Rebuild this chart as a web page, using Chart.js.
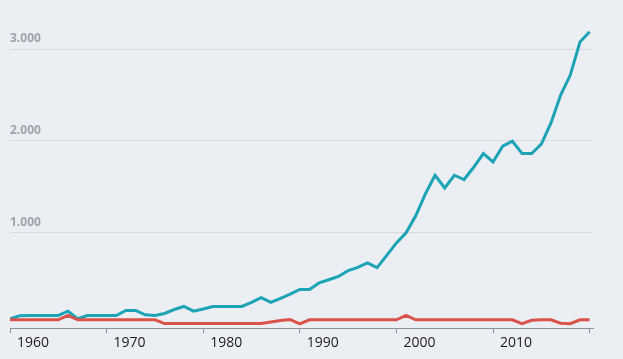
<!DOCTYPE html>
<html>
<head>
<meta charset="utf-8">
<script src="https://cdn.jsdelivr.net/npm/chart.js@4/dist/chart.umd.min.js"></script>
<style>
    html, body { margin: 0; padding: 0; background: #ebeef3; }
    #wrap { width: 623px; height: 359px; }
</style>
</head>
<body>
<div id="wrap"><canvas id="chart" width="623" height="359"></canvas></div>
<script>
// Years on the x axis
const years = [];
for (let y = 1960; y <= 2020; y++) years.push(y);

// Blue series
const blueValues = [
    55, 90, 93, 93, 93, 93, 140, 57, 93, 93,
    93, 93, 148, 148, 100, 93, 115, 158, 191, 140,
    164, 191, 191, 191, 191, 235, 286, 235, 280, 327,
    377, 377, 448, 483, 519, 582, 617, 667, 614, 749,
    885, 995, 1180, 1420, 1622, 1484, 1623, 1576, 1710, 1860,
    1768, 1940, 1995, 1860, 1860, 1962, 2193, 2497, 2716, 3076,
    3189
];

// Red series
const redValues = [
    46, 46, 46, 46, 46, 46, 93, 46, 46, 46,
    46, 46, 46, 46, 46, 46, 5, 5, 5, 5,
    5, 5, 5, 5, 5, 5, 5, 22, 38, 48,
    2, 46, 46, 46, 46, 46, 46, 46, 46, 46,
    46, 93, 46, 46, 46, 46, 46, 46, 46, 46,
    46, 46, 46, 3, 40, 46, 45, 8, 3, 45,
    46
];

// Tick values and labels
const xTicks = [1960, 1970, 1980, 1990, 2000, 2010, 2020];
const xTickLabels = ['1960', '1970', '1980', '1990', '2000', '2010', ''];
const yTicks = [1000, 2000, 3000];
const yTickLabels = ['1.000', '2.000', '3.000'];

const toPoints = (vals) => vals.map((v, i) => ({ x: years[i], y: v }));

new Chart(document.getElementById('chart'), {
    type: 'line',
    data: {
        datasets: [{
            data: toPoints(redValues),
            borderColor: '#d9534a',
            borderWidth: 3,
            pointRadius: 0,
            tension: 0,
            fill: false
        }, {
            data: toPoints(blueValues),
            borderColor: '#1ca4b6',
            borderWidth: 3,
            pointRadius: 0,
            tension: 0,
            fill: false
        }]
    },
    options: {
        responsive: false,
        animation: false,
        layout: { padding: { left: 10, right: 30, top: 0, bottom: 7 } },
        plugins: {
            legend: { display: false },
            tooltip: { enabled: false }
        },
        scales: {
            x: {
                type: 'linear',
                min: 1960,
                max: 2020.35,
                afterBuildTicks: (axis) => {
                    axis.ticks = xTicks.map(v => ({ value: v }));
                },
                // labels sit beside the ticks, so no extra side padding
                afterFit: (axis) => {
                    axis.paddingLeft = 0;
                    axis.paddingRight = 0;
                },
                grid: {
                    display: true,
                    drawOnChartArea: false,
                    drawTicks: true,
                    tickLength: 5,
                    color: '#8d9096'
                },
                border: { display: true, color: '#8d9096', width: 1 },
                ticks: {
                    autoSkip: false,
                    maxRotation: 0,
                    padding: 1,
                    labelOffset: 23,
                    color: '#1c1c1c',
                    font: { family: 'Open Sans', size: 14 },
                    callback: (value, i) => xTickLabels[i]
                }
            },
            y: {
                min: -46,
                max: 3535,
                afterBuildTicks: (axis) => {
                    axis.ticks = yTicks.map(v => ({ value: v }));
                },
                afterFit: (axis) => {
                    axis.paddingTop = 0;
                    axis.paddingBottom = 0;
                },
                grid: {
                    color: '#d7dadf',
                    lineWidth: 1,
                    drawTicks: false
                },
                border: { display: false },
                ticks: {
                    mirror: true,
                    padding: 0,
                    labelOffset: -10,
                    color: '#a0a3a9',
                    font: { family: 'Open Sans', size: 12, weight: 'bold' },
                    callback: (value, i) => yTickLabels[i]
                }
            }
        }
    }
});
</script>
</body>
</html>
